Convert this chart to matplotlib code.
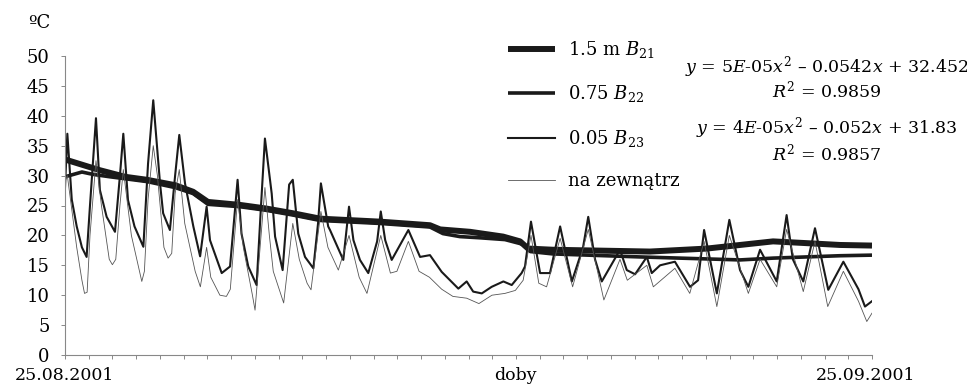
import numpy as np
import matplotlib
matplotlib.use('Agg')
import matplotlib.pyplot as plt

plt.rcParams['font.family'] = ['DejaVu Serif']
plt.rcParams['mathtext.fontset'] = 'dejavuserif'

# 0.05 m B23 - days since 25.08.2001, temperature
b23_day = [0.00, 0.09, 0.26, 0.45, 0.65, 0.83, 0.96, 1.19, 1.34, 1.60, 1.92, 2.11, 2.24, 2.42, 2.67,
           3.01, 3.19, 3.39, 3.65, 3.77, 4.03, 4.23, 4.39, 4.61, 4.93, 5.19, 5.44, 5.57, 6.02, 6.34,
           6.63, 6.78, 7.04, 7.36, 7.53, 7.68, 7.94, 8.07, 8.36, 8.61, 8.75, 8.96, 9.22, 9.54, 9.72,
           9.83, 10.11, 10.18, 10.69, 10.91, 11.08, 11.33, 11.65, 11.99, 12.13, 12.30, 12.55, 13.19,
           13.64, 14.02, 14.47, 14.79, 15.11, 15.43, 15.68, 16.01, 16.39, 16.84, 17.16, 17.54, 17.67,
           17.90, 18.25, 18.63, 19.02, 19.47, 19.90, 20.10, 20.36, 20.62, 21.32, 21.58, 21.90, 22.35,
           22.54, 22.86, 23.43, 24.01, 24.32, 24.55, 25.04, 25.52, 25.93, 26.25, 26.70, 27.34, 27.72,
           27.96, 28.36, 28.81, 29.32, 29.90, 30.48, 30.73, 31.00]
b23_temp = [28.0, 37.0, 26.0, 21.5, 18.0, 16.4, 25.0, 39.6, 27.6, 23.1, 20.6, 30.0, 37.0, 25.9, 21.5,
            18.1, 32.0, 42.6, 28.7, 23.7, 20.9, 30.0, 36.8, 28.7, 21.5, 16.5, 24.8, 19.2, 13.7, 14.8,
            29.3, 20.3, 14.8, 11.7, 25.0, 36.2, 27.0, 19.8, 14.2, 28.5, 29.3, 20.3, 16.4, 14.5, 22.0,
            28.7, 21.5, 20.9, 15.9, 24.8, 19.2, 15.9, 13.7, 19.0, 24.0, 19.2, 15.9, 20.9,
            16.4, 16.7, 13.9, 12.5, 11.1, 12.3, 10.6, 10.3, 11.4, 12.3, 11.7, 13.7, 14.8,
            22.3, 13.7, 13.7, 21.5, 12.3, 18.0, 23.1, 16.0, 12.3, 17.6, 14.2, 13.5, 16.4,
            13.7, 15.0, 15.6, 11.4, 12.5, 20.9, 10.3, 22.6, 14.2, 11.4, 17.6, 12.3, 23.4,
            16.0, 12.3, 21.2, 10.9, 15.6, 11.0, 8.1, 9.0]

# na zewnatrz (outside)
out_day = [0.00, 0.09, 0.45, 0.65, 0.75, 0.85, 0.96, 1.19, 1.40, 1.70, 1.82, 1.95, 2.11, 2.24, 2.55,
           2.95, 3.05, 3.19, 3.39, 3.55, 3.80, 3.96, 4.10, 4.23, 4.39, 4.60, 5.00, 5.20, 5.44, 5.60,
           5.95, 6.20, 6.35, 6.63, 6.85, 7.20, 7.30, 7.68, 7.85, 8.00, 8.40, 8.75, 9.00, 9.30, 9.45,
           9.83, 10.10, 10.50, 10.91, 11.30, 11.60, 12.13, 12.50, 12.75, 13.19, 13.60, 14.00, 14.47,
           14.90, 15.43, 15.90, 16.40, 16.90, 17.30, 17.60, 17.90, 18.20, 18.50, 19.02, 19.50, 20.10,
           20.70, 21.32, 21.60, 22.35, 22.60, 23.43, 24.00, 24.55, 25.04, 25.52, 26.25, 26.70, 27.34,
           27.72, 28.36, 28.81, 29.30, 29.90, 30.48, 30.80, 31.00]
out_temp = [29.0, 30.0, 18.0, 12.5, 10.3, 10.5, 20.0, 32.5, 25.0, 16.0, 15.1, 16.0, 25.0, 31.0, 20.0,
            12.3, 14.0, 26.0, 35.0, 30.0, 18.0, 16.2, 17.0, 27.0, 31.0, 22.0, 14.0, 11.4, 18.0, 13.0,
            10.0, 9.8, 11.0, 26.0, 18.0, 10.0, 7.5, 28.0, 20.0, 14.0, 8.7, 22.0, 16.0, 12.0, 10.9,
            24.0, 18.0, 14.2, 20.0, 13.0, 10.3, 20.0, 13.7, 14.0, 19.0, 14.0, 13.0, 11.0,
            9.8, 9.5, 8.6, 10.0, 10.3, 10.8, 12.5, 20.0, 12.0, 11.4, 19.5, 11.4, 21.0,
            9.2, 16.0, 12.5, 15.0, 11.4, 14.5, 10.3, 19.0, 8.1, 20.0, 10.3, 16.0, 11.4,
            21.0, 10.6, 19.0, 8.1, 14.0, 9.0, 5.6, 7.0]

# 1.5 m B21
b21_day = [0.00, 1.34, 2.31, 3.15, 4.23, 4.92, 5.49, 6.72, 7.72, 8.76, 9.80, 12.10, 14.02, 14.41,
           15.56, 16.83, 17.48, 17.79, 18.75, 22.47, 24.66, 25.93, 27.20, 28.51, 29.77, 31.00]
b21_temp = [32.7, 30.9, 29.8, 29.3, 28.4, 27.3, 25.6, 25.1, 24.5, 23.7, 22.8, 22.3, 21.7, 21.0,
            20.6, 19.8, 19.0, 17.8, 17.6, 17.3, 17.8, 18.4, 19.0, 18.7, 18.4, 18.3]

# 0.75 m B22
b22_day = [0.00, 0.65, 1.08, 1.73, 3.15, 4.23, 4.92, 5.49, 6.72, 7.72, 8.76, 9.80, 12.10, 14.02,
           14.52, 15.17, 15.94, 16.90, 17.60, 17.87, 18.75, 22.09, 25.93, 27.20, 29.77, 31.00]
b22_temp = [29.8, 30.6, 30.2, 29.8, 29.0, 28.0, 27.0, 25.2, 24.8, 24.2, 23.4, 22.5, 22.0, 21.4,
            20.3, 19.8, 19.6, 19.3, 18.5, 17.3, 16.9, 16.4, 15.9, 16.2, 16.6, 16.7]

labels = [r'1.5 m $B_{21}$', r'0.75 $B_{22}$', r'0.05 $B_{23}$', 'na zewnątrz']
eq1 = [r'$y$ = 5$E$-05$x^2$ – 0.0542$x$ + 32.452', r'$R^2$ = 0.9859']
eq2 = [r'$y$ = 4$E$-05$x^2$ – 0.052$x$ + 31.83', r'$R^2$ = 0.9857']

fig = plt.figure(figsize=(9.67, 3.85), dpi=100)
ax = fig.add_axes([65/967, 30/385, 807/967, 299/385])

ax.plot(b21_day, b21_temp, color='#1a1a1a', lw=4.3, solid_capstyle='butt', label=labels[0])
ax.plot(b22_day, b22_temp, color='#1a1a1a', lw=2.6, solid_capstyle='butt', label=labels[1])
ax.plot(b23_day, b23_temp, color='#1a1a1a', lw=1.5, label=labels[2])
ax.plot(out_day, out_temp, color='#555555', lw=0.6, label=labels[3])

ax.set_xlim(0, 31)
ax.set_ylim(0, 50)
ax.set_yticks(np.arange(0, 51, 5))
ax.set_xticks(np.linspace(0, 31, 35))
ax.set_xticklabels([''] * 35)
ax.tick_params(axis='both', direction='out', length=3, width=0.7, color='#888888',
               labelsize=13, pad=8)
for s in ['top', 'right']:
    ax.spines[s].set_visible(False)
for s in ['left', 'bottom']:
    ax.spines[s].set_color('#888888')
    ax.spines[s].set_linewidth(0.8)

fig.text(65/967, 10/385, '25.08.2001', ha='center', va='center', fontsize=12.5)
fig.text(515/967, 10/385, 'doby', ha='center', va='center', fontsize=12.5)
fig.text(866/967, 10/385, '25.09.2001', ha='center', va='center', fontsize=12.5)
fig.text(28/967, 1 - 23/385, 'ºC', ha='left', va='center', fontsize=13)

ax.legend(loc='upper left', bbox_to_anchor=(508/967, 1 - 39/385), bbox_transform=fig.transFigure,
          frameon=False, fontsize=13, handlelength=2.6, handletextpad=0.7, labelspacing=1.3,
          borderpad=0, borderaxespad=0)

fig.text(827/967, 1 - 67/385, eq1[0], ha='center', va='center', fontsize=12.5)
fig.text(827/967, 1 - 90/385, eq1[1], ha='center', va='center', fontsize=12.5)
fig.text(827/967, 1 - 128/385, eq2[0], ha='center', va='center', fontsize=12.5)
fig.text(827/967, 1 - 153/385, eq2[1], ha='center', va='center', fontsize=12.5)

fig.savefig('out.png', dpi=100)
